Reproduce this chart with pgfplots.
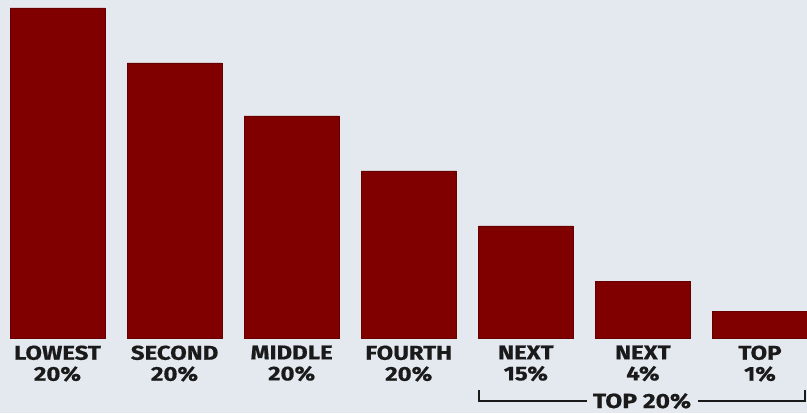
\documentclass[border=0pt]{standalone}
\usepackage{pgfplots}
\pgfplotsset{compat=1.18}
\usepackage{fontspec}
\setmainfont{Fira Sans}
\newfontfamily\lab{Fira Sans}[FakeStretch=1.2, BoldFeatures={FakeBold=0.6}]
\definecolor{bg}{HTML}{E4E9F0}
\definecolor{barred}{HTML}{800000}
\definecolor{txt}{HTML}{1A1A1A}
\begin{document}
\begin{tikzpicture}[x=1pt,y=1pt]
\useasboundingbox (0,0) rectangle (807,413);
\fill[bg] (0,0) rectangle (807,413);
\clip (0,0) rectangle (807,413);
\begin{axis}[
  at={(0pt,75pt)}, anchor=south west,
  scale only axis, width=807pt, height=338pt,
  xmin=-0.4911, xmax=6.4012, ymin=0, ymax=338,
  axis x line*=bottom, axis y line=none,
  x axis line style={draw=none},
  clip=false,
  ybar, bar width=95pt,
  xtick=data, ytick=\empty,
  xticklabels={{LOWEST\\20\%},{SECOND\\20\%},{MIDDLE\\20\%},{FOURTH\\20\%},{NEXT\\15\%},{NEXT\\4\%},{TOP\\1\%}},
  xticklabel style={align=center, font=\lab\fontsize{20}{21}\selectfont\bfseries, text=txt, anchor=north, yshift=-4pt},
  major tick length=0pt,
]
\addplot[fill=barred, draw=barred!80!black, line width=0.6pt] coordinates {(0,330) (1,275) (2,222) (3,167) (4,112) (5,57) (6,27)};
\end{axis}
\draw[txt, line width=1.2pt] (479,23) -- (479,12) -- (587,12);
\draw[txt, line width=1.2pt] (698,12) -- (805,12) -- (805,23);
\node[txt, font=\lab\fontsize{20.5}{21}\selectfont\bfseries, anchor=base, inner sep=0pt] at (642,5) {TOP 20\%};
\end{tikzpicture}
\end{document}
